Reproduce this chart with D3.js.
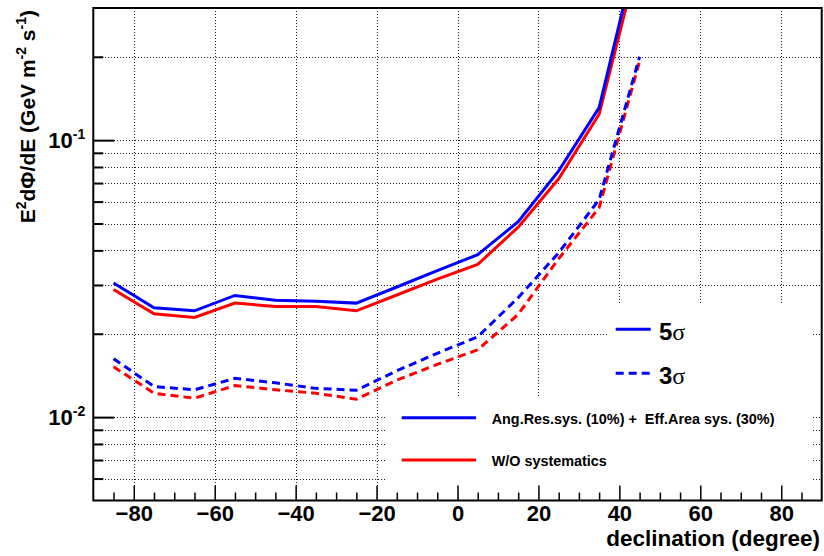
<!DOCTYPE html>
<html>
<head>
<meta charset="utf-8">
<script src="https://cdn.jsdelivr.net/npm/d3@7"></script>
<style>
  html, body { margin: 0; padding: 0; background: #fff; }
  svg { display: block; }
  text { font-family: "Liberation Sans", Arial, Helvetica, sans-serif; font-weight: bold; fill: #000; }
</style>
</head>
<body>
<svg id="chart" width="824" height="556"></svg>
<script>
// ---------------- data ----------------
const declination = [-85, -75, -65, -55, -45, -35, -25, -15, -5, 5, 15, 25, 35, 45];
// 5 sigma, with systematics (blue solid)
const sys5sigma   = [0.0305, 0.0248, 0.0242, 0.0275, 0.0264, 0.0262, 0.0258, 0.0295, 0.0338, 0.0386, 0.0508, 0.0775, 0.131, 0.53];
// 5 sigma, without systematics (red solid)
const nosys5sigma = [0.0289, 0.0236, 0.0229, 0.0258, 0.0251, 0.0251, 0.0242, 0.0276, 0.0315, 0.0356, 0.0485, 0.0725, 0.124, 0.47];
// 3 sigma, with systematics (blue dashed)
const sys3sigma   = [0.01625, 0.0129, 0.01255, 0.0138, 0.0133, 0.0127, 0.0125, 0.0147, 0.0170, 0.0195, 0.0270, 0.0392, 0.061, 0.200];
// 3 sigma, without systematics (red dashed)
const nosys3sigma = [0.0152, 0.0122, 0.0117, 0.0130, 0.01255, 0.0122, 0.0116, 0.0136, 0.0155, 0.0175, 0.0235, 0.0373, 0.057, 0.193];

const xMajorTicks = [-80, -60, -40, -20, 0, 20, 40, 60, 80];
const xMinorStep = 5;
const yMajorTicks = [0.01, 0.1];
const yMajorLabelBase = ["10", "10"];
const yMajorLabelExp = ["-2", "-1"];
const xTitle = "declination (degree)";
const sigmaLegendLabels = ["5", "3"];
const sysLegendLabels = ["Ang.Res.sys. (10%) +  Eff.Area sys. (30%)", "W/O systematics"];

// ---------------- layout ----------------
const L = 93.3, R = 821.7, T = 8, B = 500.5;
const svg = d3.select("#chart");
svg.append("rect").attr("width", 824).attr("height", 556).attr("fill", "#fff");

const x = d3.scaleLinear().domain([-90, 90]).range([L, R]);
const y = d3.scaleLog().domain([0.005, 0.3]).range([B, T]);

// ---------------- grid ----------------
const gridStyle = g => g.selectAll("line").attr("stroke", "#1a1a1a").attr("stroke-width", 1)
  .attr("stroke-dasharray", "1,2").attr("shape-rendering", "crispEdges");
svg.append("g").attr("transform", `translate(0,${B})`)
  .call(d3.axisBottom(x).tickValues(xMajorTicks).tickSize(-(B - T)).tickFormat(""))
  .call(g => g.select(".domain").remove())
  .call(gridStyle);
const yAllTicks = y.ticks().filter(v => v > 0.0051 && v < 0.299);
svg.append("g").attr("transform", `translate(${L},0)`)
  .call(d3.axisLeft(y).tickValues(yAllTicks).tickSize(-(R - L)).tickFormat(""))
  .call(g => g.select(".domain").remove())
  .call(gridStyle);

// ---------------- legend backgrounds (cover grid) ----------------
svg.append("rect").attr("x", 607).attr("y", 305).attr("width", 205).attr("height", 92).attr("fill", "#fff");
svg.append("rect").attr("x", 385).attr("y", 397).attr("width", 426).attr("height", 96).attr("fill", "#fff");

// ---------------- data lines ----------------
svg.append("clipPath").attr("id", "plotclip")
  .append("rect").attr("x", L).attr("y", T).attr("width", R - L).attr("height", B - T);

const series = [
  { values: nosys5sigma, color: "#ff0000", dash: null },
  { values: sys5sigma,   color: "#0000ff", dash: null },
  { values: nosys3sigma, color: "#ff0000", dash: "8,5" },
  { values: sys3sigma,   color: "#0000ff", dash: "8,5" }
];
const line = d3.line().x((d, i) => x(declination[i])).y(d => y(d));
const plot = svg.append("g").attr("clip-path", "url(#plotclip)");
series.forEach(s => {
  plot.append("path").datum(s.values)
    .attr("d", line)
    .attr("fill", "none")
    .attr("stroke", s.color)
    .attr("stroke-width", 3)
    .attr("stroke-dasharray", s.dash);
});

// ---------------- axes ticks ----------------
const xMinor = d3.range(-85, 90, xMinorStep).filter(v => !xMajorTicks.includes(v));
svg.append("g").attr("transform", `translate(0,${B})`)
  .call(d3.axisBottom(x).tickValues(xMinor).tickSize(-8).tickFormat(""))
  .call(g => g.select(".domain").remove())
  .call(g => g.selectAll("line").attr("stroke", "#000").attr("stroke-width", 1.5));
svg.append("g").attr("transform", `translate(0,${B})`)
  .call(d3.axisBottom(x).tickValues(xMajorTicks).tickSize(-15).tickPadding(5).tickFormat(d3.format("d")))
  .call(g => g.select(".domain").remove())
  .call(g => g.selectAll("line").attr("stroke", "#000").attr("stroke-width", 1.5))
  .call(g => g.selectAll("text").attr("font-size", 22).attr("font-family", "Liberation Sans, Arial, sans-serif").attr("font-weight", "bold").attr("fill", "#000"));

const yMinor = yAllTicks.filter(v => !yMajorTicks.includes(v));
svg.append("g").attr("transform", `translate(${L},0)`)
  .call(d3.axisLeft(y).tickValues(yMinor).tickSize(-10).tickFormat(""))
  .call(g => g.select(".domain").remove())
  .call(g => g.selectAll("line").attr("stroke", "#000").attr("stroke-width", 2));
const yMajG = svg.append("g").attr("transform", `translate(${L},0)`)
  .call(d3.axisLeft(y).tickValues(yMajorTicks).tickSize(-21).tickFormat(""))
  .call(g => g.select(".domain").remove())
  .call(g => g.selectAll("line").attr("stroke", "#000").attr("stroke-width", 2));
yMajG.selectAll(".tick").each(function(d, i) {
  const t = d3.select(this).append("text")
    .attr("x", -8).attr("y", 7.5).attr("text-anchor", "end")
    .attr("font-size", 22).attr("font-family", "Liberation Sans, Arial, sans-serif").attr("font-weight", "bold").attr("fill", "#000");
  t.append("tspan").text(yMajorLabelBase[i]);
  t.append("tspan").attr("font-size", 14).attr("dy", -9).text(yMajorLabelExp[i]);
});

// ---------------- frame ----------------
svg.append("rect").attr("x", L).attr("y", T).attr("width", R - L).attr("height", B - T)
  .attr("fill", "none").attr("stroke", "#000").attr("stroke-width", 2);

// ---------------- titles ----------------
svg.append("text").attr("x", 820).attr("y", 546).attr("text-anchor", "end")
  .attr("font-size", 22.5).text(xTitle);

const yt = svg.append("text").attr("transform", "translate(35,10) rotate(-90)")
  .attr("text-anchor", "end").attr("font-size", 21);
yt.append("tspan").text("E");
yt.append("tspan").attr("font-size", 14).attr("dy", -9).text("2");
yt.append("tspan").attr("dy", 9).text("dΦ/dE (GeV m");
yt.append("tspan").attr("font-size", 14).attr("dy", -9).text("-2");
yt.append("tspan").attr("dy", 9).text(" s");
yt.append("tspan").attr("font-size", 14).attr("dy", -9).text("-1");
yt.append("tspan").attr("dy", 9).text(")");

// ---------------- legends ----------------
const sigmaDash = [null, "8,5"];
const sigmaLineY = [329.3, 373.3];
const sigmaTextY = [340, 383.5];
sigmaLegendLabels.forEach((lab, i) => {
  svg.append("line").attr("x1", 615.7).attr("x2", 650.7).attr("y1", sigmaLineY[i]).attr("y2", sigmaLineY[i])
    .attr("stroke", "#0000ff").attr("stroke-width", 3).attr("stroke-dasharray", sigmaDash[i]);
  const t = svg.append("text").attr("x", 659).attr("y", sigmaTextY[i]).attr("font-size", 24);
  t.append("tspan").text(lab);
  t.append("tspan").attr("font-family", "Liberation Serif, Times New Roman, serif").attr("font-weight", "normal").text("σ");
});

const sysColors = ["#0000ff", "#ff0000"];
const sysLineY = [417.7, 460];
const sysTextY = [424, 465.7];
sysLegendLabels.forEach((lab, i) => {
  svg.append("line").attr("x1", 401.7).attr("x2", 476).attr("y1", sysLineY[i]).attr("y2", sysLineY[i])
    .attr("stroke", sysColors[i]).attr("stroke-width", 3);
  svg.append("text").attr("x", 491.7).attr("y", sysTextY[i]).attr("font-size", 14.4)
    .style("white-space", "pre").text(lab);
});
</script>
</body>
</html>
